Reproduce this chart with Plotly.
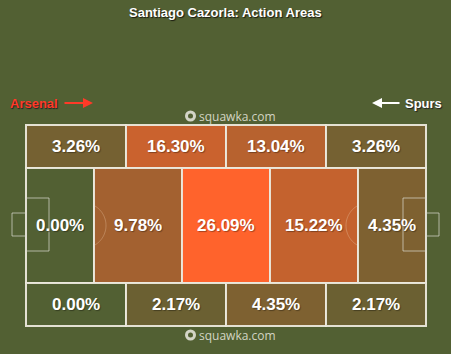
import numpy as np
import plotly.graph_objects as go

title = "Santiago Cazorla: Action Areas"
team_left = "Arsenal"
team_right = "Spurs"
watermark = "squawka.com"

# zone values (%), rows top -> bottom, cols left -> right
top_row = [3.26, 16.30, 13.04, 3.26]
mid_row = [0.00, 9.78, 26.09, 15.22, 4.35]
bot_row = [0.00, 2.17, 4.35, 2.17]

# zone edges in pitch units (length 0-100, width 0-100)
wide_edges = [0, 25, 50, 75, 100]
mid_edges = [0, 17, 39, 61, 83, 100]
row_edges = [0, 21.4, 78.6, 100]

BG = (82, 96, 51)
HOT = (255, 99, 44)
vmax = max(top_row + mid_row + bot_row)

# pixel mapping: pitch x 0..100 -> 26..426 px; y 0..100 -> 125..326 px
PX_X = 4.0
PX_Y = 2.01
W, H = 451, 354
x_range = [-26 / PX_X, (W - 26) / PX_X]
y_range = [(H - 125) / PX_Y, -125 / PX_Y]


def px2x(p):
    return (p - 26) / PX_X


def px2y(p):
    return (p - 125) / PX_Y


def colour(v):
    a = (v / vmax) ** 0.77 if v > 0 else 0
    r, g, b = (round(BG[i] + a * (HOT[i] - BG[i])) for i in range(3))
    return f"rgb({r},{g},{b})"


fig = go.Figure()
shapes = []
annotations = []
LINE = "rgba(235,232,220,0.95)"

rows = [(top_row, wide_edges), (mid_row, mid_edges), (bot_row, wide_edges)]
for ri, (vals, edges) in enumerate(rows):
    y0, y1 = row_edges[ri], row_edges[ri + 1]
    for ci, v in enumerate(vals):
        x0, x1 = edges[ci], edges[ci + 1]
        shapes.append(dict(type="rect", x0=x0, x1=x1, y0=y0, y1=y1,
                           fillcolor=colour(v), line=dict(color=LINE, width=2),
                           layer="below"))
        annotations.append(dict(x=(x0 + x1) / 2, y=(y0 + y1) / 2,
                                text=f"{v:.2f}%", showarrow=False,
                                font=dict(family="Liberation Sans, Arial", size=17,
                                          color="white", weight="bold",
                                          shadow="1px 1px 1px rgba(0,0,0,0.35)")))

# pitch markings (penalty & goal boxes)
thin = dict(color="rgba(220,220,210,0.7)", width=1)
for side in (0, 1):
    if side == 0:
        pb = (px2x(26), px2x(49)); gb = (px2x(12), px2x(26))
    else:
        pb = (px2x(403), px2x(426)); gb = (px2x(426), px2x(439))
    shapes.append(dict(type="rect", x0=pb[0], x1=pb[1], y0=px2y(198), y1=px2y(251),
                       line=thin, layer="above"))
    shapes.append(dict(type="rect", x0=gb[0], x1=gb[1], y0=px2y(213), y1=px2y(236),
                       line=thin, layer="above"))

# penalty arcs
r = 22.7
for cx, sgn, lim in ((83.3, 1, 94), (368.7, -1, 358)):
    ang = np.linspace(-np.pi / 2, np.pi / 2, 60)
    xs = cx + sgn * r * np.cos(ang)
    ys = 225.5 + r * np.sin(ang)
    keep = (xs >= lim) if sgn == 1 else (xs <= lim)
    xs, ys = xs[keep], ys[keep]
    path = "M " + " L ".join(f"{px2x(a):.3f},{px2y(b):.3f}" for a, b in zip(xs, ys))
    shapes.append(dict(type="path", path=path,
                       line=dict(color="rgba(235,200,170,0.35)", width=1), layer="above"))

fig.update_layout(shapes=shapes, annotations=annotations)

# title
fig.add_annotation(xref="paper", yref="paper", x=0.5, y=1 - 12 / H, text=title,
                   showarrow=False, yanchor="middle",
                   font=dict(family="Liberation Sans, Arial", size=13, color="white",
                             weight="bold", shadow="1px 1px 1px #1a1a10"))

# team labels with arrows
fig.add_annotation(x=px2x(8), y=px2y(103), text=team_left, showarrow=False,
                   xanchor="left", font=dict(family="Liberation Sans, Arial", size=13,
                                             color="#ff3a28", weight="bold",
                                             shadow="1px 1px 1px #222"))
fig.add_annotation(x=px2x(93), y=px2y(103), ax=px2x(63), ay=px2y(103),
                   xref="x", yref="y", axref="x", ayref="y", text="", showarrow=True,
                   arrowhead=2, arrowsize=1, arrowwidth=2, arrowcolor="#ff3a28")
fig.add_annotation(x=px2x(444), y=px2y(103), text=team_right, showarrow=False,
                   xanchor="right", font=dict(family="Liberation Sans, Arial", size=13,
                                              color="white", weight="bold",
                                              shadow="1px 1px 1px #222"))
fig.add_annotation(x=px2x(372), y=px2y(103), ax=px2x(401), ay=px2y(103),
                   xref="x", yref="y", axref="x", ayref="y", text="", showarrow=True,
                   arrowhead=2, arrowsize=1, arrowwidth=2, arrowcolor="white")

# watermarks
for yy in (116, 335):
    fig.add_annotation(x=px2x(197), y=px2y(yy), text=watermark, showarrow=False,
                       xanchor="left", font=dict(family="Open Sans, Arial", size=12,
                                                 color="rgba(225,225,215,0.9)"))
    fig.add_shape(type="circle", x0=px2x(185), x1=px2x(196), y0=px2y(yy - 5.5),
                  y1=px2y(yy + 5.5), fillcolor="rgba(225,225,215,0.9)",
                  line=dict(width=0))
    fig.add_shape(type="circle", x0=px2x(188), x1=px2x(193), y0=px2y(yy - 2.5),
                  y1=px2y(yy + 2.5), fillcolor="rgb(82,96,51)", line=dict(width=0))

fig.update_layout(
    width=W, height=H, margin=dict(l=0, r=0, t=0, b=0),
    paper_bgcolor=f"rgb{BG}", plot_bgcolor=f"rgb{BG}",
    xaxis=dict(range=x_range, visible=False, fixedrange=True),
    yaxis=dict(range=y_range, visible=False, fixedrange=True),
    showlegend=False,
)

fig.write_html("out.html", config={"displayModeBar": False})
